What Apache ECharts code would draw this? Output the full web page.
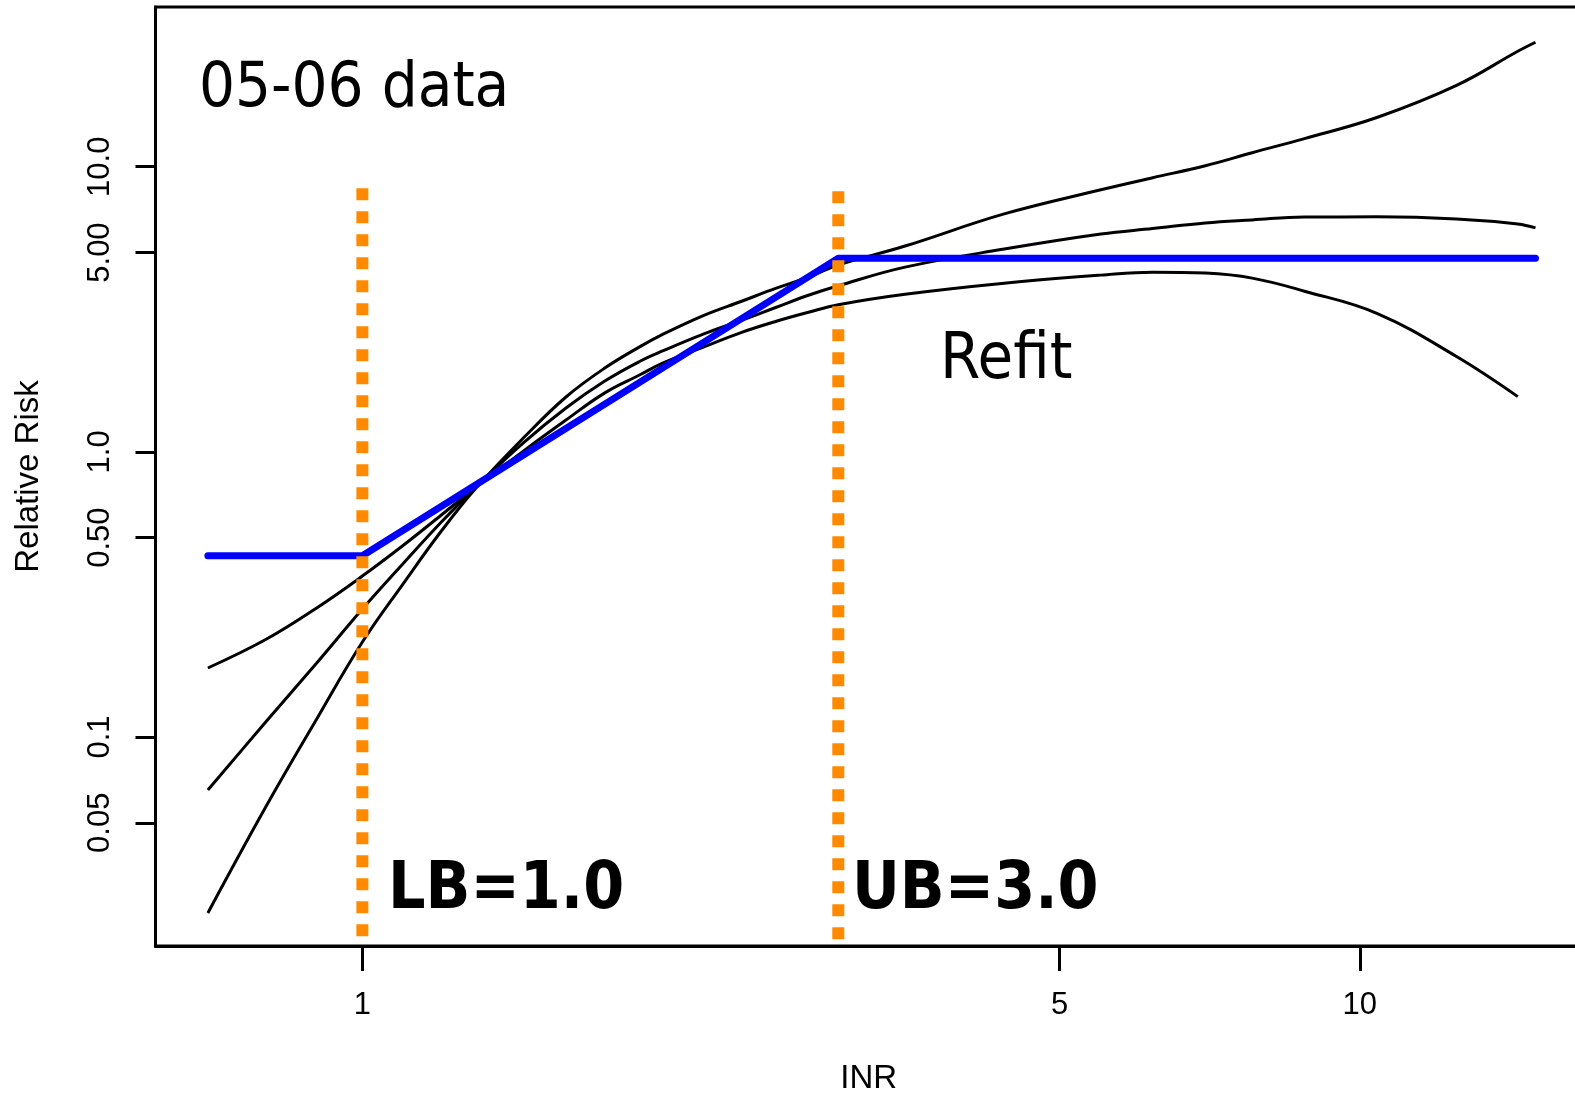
<!DOCTYPE html>
<html><head><meta charset="utf-8">
<script src="https://cdn.jsdelivr.net/npm/echarts@6/dist/echarts.min.js"></script>
<style>html,body{margin:0;padding:0;background:#fff}#c{width:1575px;height:1095px}</style>
</head><body><div id="c"></div>
<script>
// ---- data (INR on x, Relative Risk on y, both log scale) ----
const inrGrid = [0.7,0.8,0.9,1.0,1.1,1.2,1.3,1.45,1.6,1.75,1.9,2.0,2.2,2.4,2.6,2.8,3.0,3.5,4.4,5.5,6.2,7.0,7.8,8.8,10.4,12.5,14.4,15];
const rrCurveA = [0.02412,0.05676,0.1156,0.2152,0.3466,0.5275,0.7464,1.118,1.557,1.967,2.343,2.582,3.012,3.375,3.749,4.099,4.518,5.270,6.831,8.299,9.15,10.08,11.20,12.55,14.88,19.29,25.41,27.33];
const rrCurveB = [0.0651,0.1128,0.1816,0.2809,0.4074,0.5671,0.7523,1.074,1.424,1.771,2.082,2.259,2.593,2.893,3.214,3.542,3.825,4.445,5.143,5.808,6.07,6.352,6.51,6.668,6.67,6.56,6.30,6.10];
const rrCurveC = [0.1745,0.2196,0.2835,0.3667,0.4711,0.6003,0.7523,1.006,1.293,1.61,1.867,2.049,2.333,2.624,2.870,3.086,3.281,3.571,3.904,4.167,4.269,4.235,4.067,3.660,3.062,2.160,1.562,null];
const refitINR = [0.7, 1.0, 3.0, 15];
const refitRR = [0.432, 0.432, 4.78, 4.78];
const boundINR = [1.0, 3.0];
const boundTop = [8.4, 8.2];
const xTicks = [1, 5, 10];
const xTickLabels = ['1', '5', '10'];
const yTicks = [0.05, 0.1, 0.5, 1, 5, 10];
const yTickLabels = ['0.05', '0.1', '0.50', '1.0', '5.00', '10.0'];
const xRange = [0.6203, 16.70];
const yRange = [0.01848, 36.33];

function pairs(xs, ys) {
  return xs.map((x, i) => [x, ys[i]]).filter(p => p[1] != null);
}
function lookup(ticks, labels, v) {
  for (let i = 0; i < ticks.length; i++) {
    if (Math.abs(Math.log10(v) - Math.log10(ticks[i])) < 1e-6) return labels[i];
  }
  return '';
}

const axisFont = 'Liberation Sans, Arial, sans-serif';
const annFont = "'DejaVu Sans Condensed', 'DejaVu Sans', sans-serif";
const blackLine = { color: '#000', width: 3 };

const chart = echarts.init(document.getElementById('c'), null, { renderer: 'canvas' });
const option = {
  backgroundColor: '#fff',
  animation: false,
  grid: {
    left: 155.5, right: -7, top: 7, bottom: 149,
    show: true, borderColor: '#000', borderWidth: 3, backgroundColor: 'transparent',
    containLabel: false, outerBoundsMode: 'none'
  },
  xAxis: {
    type: 'log', logBase: 10, min: xRange[0], max: xRange[1],
    name: 'INR', nameLocation: 'middle', nameGap: 116,
    nameTextStyle: { fontFamily: axisFont, fontSize: 33, color: '#000' },
    axisLine: { show: true, lineStyle: { color: '#000', width: 3 } },
    axisTick: { show: true, length: 25, lineStyle: { color: '#000', width: 3 }, customValues: xTicks },
    axisLabel: { show: true, margin: 44, fontFamily: axisFont, fontSize: 31, color: '#000',
      customValues: xTicks, formatter: v => lookup(xTicks, xTickLabels, v) },
    splitLine: { show: false }, minorTick: { show: false }
  },
  yAxis: {
    type: 'log', logBase: 10, min: yRange[0], max: yRange[1],
    name: 'Relative Risk', nameLocation: 'middle', nameGap: 110,
    nameTextStyle: { fontFamily: axisFont, fontSize: 33, color: '#000' },
    axisLine: { show: true, lineStyle: { color: '#000', width: 3 } },
    axisTick: { show: true, length: 20, lineStyle: { color: '#000', width: 3 }, customValues: yTicks },
    axisLabel: { show: true, margin: 40, rotate: 90, fontFamily: axisFont, fontSize: 31, color: '#000',
      customValues: yTicks, formatter: v => lookup(yTicks, yTickLabels, v) },
    splitLine: { show: false }, minorTick: { show: false }
  },
  series: [
    { name: 'A', type: 'line', data: pairs(inrGrid, rrCurveA), showSymbol: false, smooth: 0.4, lineStyle: blackLine, z: 2 },
    { name: 'B', type: 'line', data: pairs(inrGrid, rrCurveB), showSymbol: false, smooth: 0.4, lineStyle: blackLine, z: 2 },
    { name: 'C', type: 'line', data: pairs(inrGrid, rrCurveC), showSymbol: false, smooth: 0.4, lineStyle: blackLine, z: 2 },
    { name: 'Refit', type: 'line', data: pairs(refitINR, refitRR), showSymbol: false, smooth: false,
      lineStyle: { color: '#0000FF', width: 7, cap: 'round', join: 'round' }, z: 3 }
  ].concat(boundINR.map((x, i) => ({
    name: 'bound' + i, type: 'line', data: [[x, boundTop[i]], [x, yRange[0]]], showSymbol: false,
    lineStyle: { color: '#FF8A00', width: 12, type: [12, 11], cap: 'butt' }, z: 4
  }))),
  graphic: [
    { type: 'text', left: 199, top: 58, z: 10, style: { text: '05-06 data', font: "63px " + annFont, fill: '#000' } },
    { type: 'text', left: 940, top: 329, z: 10, style: { text: 'Refit', font: "64.5px " + annFont, fill: '#000' } },
    { type: 'text', left: 388, top: 858, z: 10, style: { text: 'LB=1.0', font: "bold 65.5px " + annFont, fill: '#000' } },
    { type: 'text', left: 852, top: 858, z: 10, style: { text: 'UB=3.0', font: "bold 65.5px " + annFont, fill: '#000' } }
  ]
};
chart.setOption(option);
</script>
</body></html>
